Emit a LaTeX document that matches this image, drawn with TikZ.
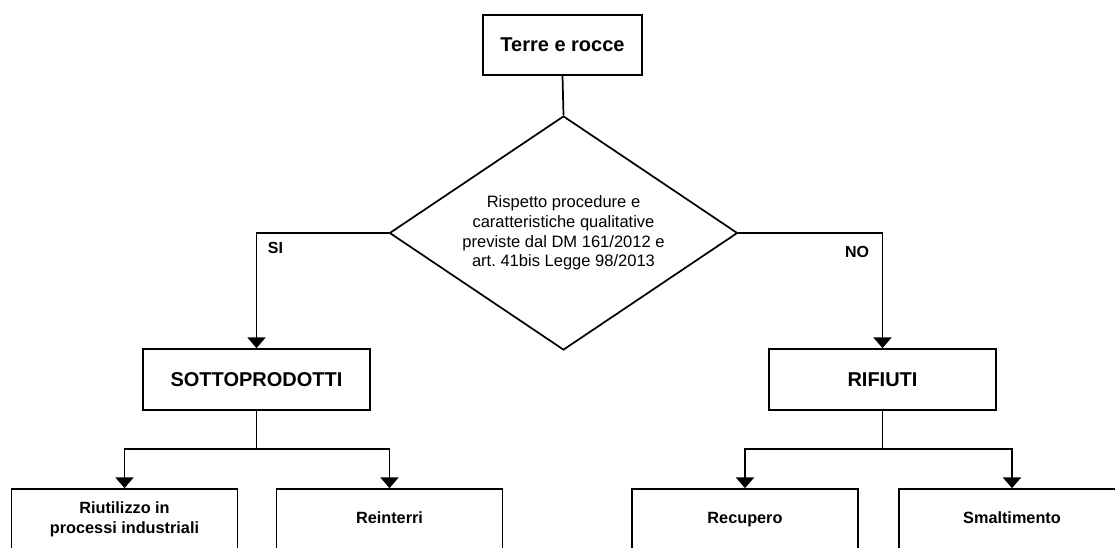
\documentclass[tikz,border=0pt]{standalone}
\usepackage{fontspec}
\setmainfont{Liberation Sans}
\usetikzlibrary{arrows.meta,shapes.geometric}
\frenchspacing
\begin{document}
\frenchspacing
\begin{tikzpicture}[x=0.75pt,y=-0.75pt,
  box/.style={draw, line width=1.3pt, inner sep=0pt, align=center, fill=white},
  bigtxt/.style={font=\fontsize{15}{18}\selectfont\bfseries},
  smalltxt/.style={font=\fontsize{12.2}{15}\selectfont\bfseries},
  oneline/.style={text height=9pt, text depth=2.6pt},
  dtxt/.style={font=\fontsize{12.4}{14.8}\selectfont},
  conn/.style={line width=1.3pt},
  arr/.style={conn,-{Triangle[width=13.5pt,length=8pt]}},
  lbl/.style={font=\fontsize{12}{14}\selectfont\bfseries}]
\useasboundingbox (0,0) rectangle (1115,547);
\clip (0,0) rectangle (1115,547);

\node[box,bigtxt,minimum width=119.25pt,minimum height=45pt] (top) at (562.5,45) {Terre e rocce};
\node[box,dtxt,diamond,aspect=1.487,minimum width=261pt,minimum height=175.5pt] (dec) at (563.5,233)
  {Rispetto procedure e\\caratteristiche qualitative\\previste dal DM 161/2012 e\\art. 41bis Legge 98/2013};
\node[box,bigtxt,minimum width=170.25pt,minimum height=45.75pt] (sotto) at (256.5,379.5) {SOTTOPRODOTTI};
\node[box,bigtxt,minimum width=170.25pt,minimum height=45.75pt] (rif) at (882.5,379.5) {RIFIUTI};

\node[box,smalltxt,minimum width=169.5pt,minimum height=45pt] (riut) at (124.5,519) {Riutilizzo in\\processi industriali};
\node[box,smalltxt,oneline,minimum width=169.5pt,minimum height=45pt] (rein) at (389.5,519) {Reinterri};
\node[box,smalltxt,oneline,minimum width=169.5pt,minimum height=45pt] (recu) at (745,519) {Recupero};
\node[box,smalltxt,oneline,minimum width=169.5pt,minimum height=45pt] (smal) at (1012,519) {Smaltimento};

\node[lbl] (si) at (275.5,248) {SI};
\node[lbl] (no) at (857,251.5) {NO};

\draw[conn] (top.south) -- (dec.north);
\draw[arr] (dec.west) -| (sotto.north);
\draw[arr] (dec.east) -| (rif.north);

\coordinate (sb) at (256.5,449);
\coordinate (rb) at (882.5,449);
\draw[conn] (sotto.south) -- (sb);
\draw[arr] (sb) -| (riut.north);
\draw[arr] (sb) -| (rein.north);
\draw[conn] (rif.south) -- (rb);
\draw[arr] (rb) -| (recu.north);
\draw[arr] (rb) -| (smal.north);
\end{tikzpicture}
\end{document}
